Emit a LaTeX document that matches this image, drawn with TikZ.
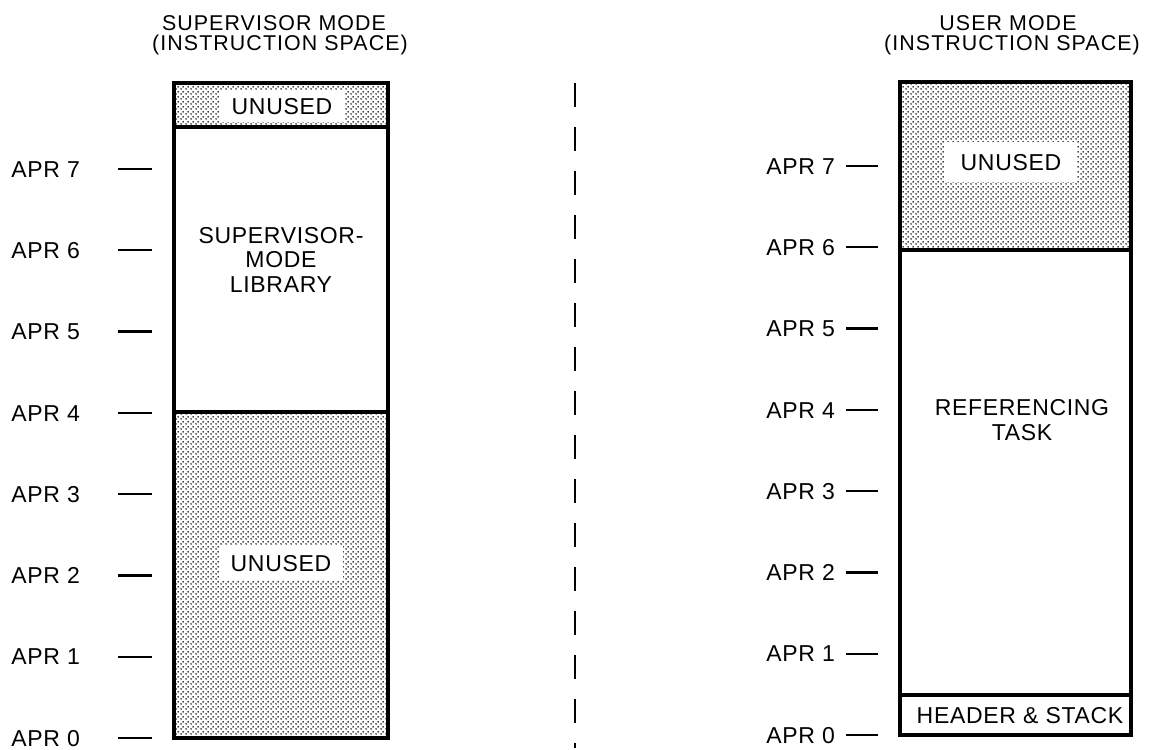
\documentclass[tikz,border=0pt]{standalone}
\usepackage{fontspec}
\setmainfont{Liberation Sans}
\newfontfamily\lblfont{Liberation Sans}[LetterSpace=3]
\newfontfamily\ttlfont{Liberation Sans}[LetterSpace=5]
\usetikzlibrary{patterns}

\pgfdeclarepatternformonly{stipple}{\pgfpointorigin}{\pgfqpoint{2.5pt}{2.5pt}}{\pgfqpoint{2.5pt}{2.5pt}}{%
  \pgfpathcircle{\pgfqpoint{0.625pt}{0.625pt}}{0.5pt}%
  \pgfpathcircle{\pgfqpoint{1.875pt}{1.875pt}}{0.5pt}%
  \pgfusepath{fill}}

\begin{document}
\begin{tikzpicture}[x=0.5pt,y=-0.5pt,
  lbl/.style={font=\lblfont\fontsize{11.5}{13}\selectfont, inner sep=0pt, anchor=base},
  ttl/.style={font=\ttlfont\fontsize{10.7}{12}\selectfont, inner sep=0pt, anchor=base},
  apr/.style={lbl, anchor=base west},
  tick/.style={line width=1.1pt},
  frame/.style={line width=2pt},
  divider/.style={line width=1.7pt},
  stip/.style={pattern=stipple, pattern color=black},
  patch/.style={lbl, fill=white, inner xsep=6pt, inner ysep=5pt},
]
\useasboundingbox (0,0) rectangle (1153,750);

% ---------- titles
\node[ttl] (tl1) at (274,30) {SUPERVISOR MODE};
\node[ttl] (tl2) at (280,50) {(INSTRUCTION SPACE)};
\node[ttl] (tr1) at (1008,30) {USER MODE};
\node[ttl] (tr2) at (1012,50) {(INSTRUCTION SPACE)};

% ---------- left box
\path[stip] (174,83) rectangle (388,127);
\path[stip] (174,412) rectangle (388,738);
\draw[divider] (174,127) -- (388,127);
\draw[divider] (174,412) -- (388,412);
\draw[frame] (174,83) rectangle (388,738);

\node[patch, inner ysep=4pt] (lu1) at (282,114) {UNUSED};
\node[lbl] (sml1) at (281,243) {SUPERVISOR-};
\node[lbl] (sml2) at (281,267) {MODE};
\node[lbl] (sml3) at (281,292) {LIBRARY};
\node[patch] (lu2) at (281,571) {UNUSED};

% ---------- right box
\path[stip] (900,82) rectangle (1131,250);
\draw[divider] (900,250) -- (1131,250);
\draw[divider] (900,695) -- (1131,695);
\draw[frame] (900,82) rectangle (1131,735);

\node[patch, inner xsep=8pt, inner ysep=6pt] (ru) at (1011,170) {UNUSED};
\node[lbl] (rt1) at (1022,415) {REFERENCING};
\node[lbl] (rt2) at (1022,440) {TASK};
\node[lbl] (hs) at (1020,723) {HEADER \& STACK};

% ---------- APR labels and ticks
\foreach \k in {0,...,7} {
  \pgfmathsetmacro\yl{738-81.3*\k}
  \pgfmathsetmacro\yr{735-81.3*\k}
  \node[apr] (L\k) at (11,{\yl+8.2}) {APR \k};
  \coordinate (lta\k) at (118,\yl);
  \coordinate (ltb\k) at (152,\yl);
  \draw[tick] (lta\k) -- (ltb\k);
  \node[apr] (R\k) at (766,{\yr+8.2}) {APR \k};
  \coordinate (rta\k) at (846,\yr);
  \coordinate (rtb\k) at (878,\yr);
  \draw[tick] (rta\k) -- (rtb\k);
}

% ---------- separator
\coordinate (sepT) at (575,83);
\coordinate (sepB) at (575,748);
\draw[line width=1.4pt, dash pattern=on 12pt off 10pt] (sepT) -- (sepB);
\end{tikzpicture}
\end{document}
